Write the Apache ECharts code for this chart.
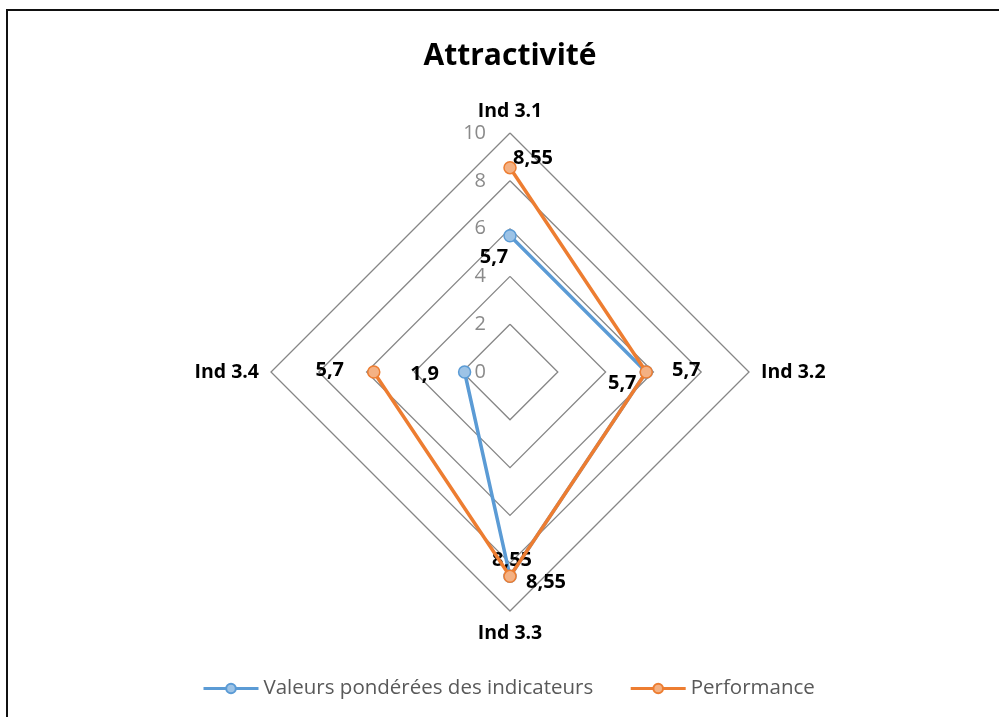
<!DOCTYPE html>
<html>
<head>
<meta charset="utf-8">
<script src="https://cdn.jsdelivr.net/npm/echarts@6/dist/echarts.min.js"></script>
<style>
  html, body { margin: 0; padding: 0; background: #fff; }
  #chart { width: 999px; height: 717px; }
</style>
</head>
<body>
<div id="chart"></div>
<script>
// Indicators, clockwise from the top
const indicators = ['Ind 3.1', 'Ind 3.2', 'Ind 3.3', 'Ind 3.4'];
const weightedValues = [5.7, 5.7, 8.55, 1.9];
const performance = [8.55, 5.7, 8.55, 5.7];
const radialTicks = [0, 2, 4, 6, 8, 10];
const seriesNames = ['Valeurs pondérées des indicateurs', 'Performance'];

// Label offsets (px) per vertex, relative to the marker centre
const blueLabelOffsets = [[-16, 22], [-24, 11], [2, -16], [-40, 2]];
const orangeLabelOffsets = [[23, -9], [40, -2], [36, 6], [-44, -2]];

const FONT = '"Open Sans", "Noto Sans", "Liberation Sans", sans-serif';
const CENTER = [510, 372];
const RADIUS = 239;

function buildPoints(values, offsets) {
  const pts = values.map((v, i) => ({
    value: [v, i],
    label: {
      show: true,
      position: 'inside',
      offset: offsets[i],
      formatter: String(v).replace('.', ','),
      color: '#000',
      fontWeight: 'bold',
      fontSize: 20,
      fontFamily: FONT
    }
  }));
  // close the polygon back on the first indicator
  pts.push({ value: [values[0], 0], symbol: 'none', label: { show: false } });
  return pts;
}

const chart = echarts.init(document.getElementById('chart'), null, { renderer: 'canvas' });

chart.setOption({
  backgroundColor: '#fff',
  animation: false,
  title: {
    text: 'Attractivité',
    left: 505,
    top: 36,
    textAlign: 'center',
    textStyle: { fontSize: 30, fontWeight: 'bold', color: '#000', fontFamily: FONT }
  },
  legend: {
    top: 673,
    left: 197,
    itemGap: 36,
    itemWidth: 55,
    itemHeight: 12,
    data: seriesNames,
    lineStyle: { width: 3 },
    textStyle: { fontSize: 20.5, color: '#595959', fontFamily: FONT }
  },
  graphic: [{
    type: 'rect',
    shape: { x: 7, y: 10, width: 1010, height: 730 },
    style: { fill: 'none', stroke: '#111', lineWidth: 2 },
    silent: true,
    z: -1
  }],
  radar: {
    center: CENTER,
    radius: RADIUS,
    shape: 'polygon',
    splitNumber: 5,
    indicator: indicators.map(() => ({ name: '', max: 10, min: 0 })),
    axisName: { show: false },
    axisLine: { show: false },
    axisTick: { show: false },
    axisLabel: { show: false },
    splitArea: { show: false },
    splitLine: { lineStyle: { color: '#868686', width: 1.3 } }
  },
  polar: { center: CENTER, radius: RADIUS },
  angleAxis: {
    type: 'category',
    data: indicators,
    boundaryGap: false,
    startAngle: 90,
    clockwise: true,
    axisLine: { show: false },
    axisTick: { show: false },
    splitLine: { show: false },
    axisLabel: {
      margin: 12,
      color: '#000',
      fontWeight: 'bold',
      fontSize: 19.5,
      fontFamily: FONT
    }
  },
  radiusAxis: {
    type: 'value',
    min: radialTicks[0],
    max: radialTicks[radialTicks.length - 1],
    interval: radialTicks[1] - radialTicks[0],
    axisLine: { show: false },
    axisTick: { show: false },
    splitLine: { show: false },
    axisLabel: {
      margin: 24,
      color: '#8a8a8a',
      fontSize: 20,
      fontFamily: FONT
    }
  },
  series: [
    {
      name: seriesNames[0],
      type: 'line',
      coordinateSystem: 'polar',
      data: buildPoints(weightedValues, blueLabelOffsets),
      symbol: 'circle',
      symbolSize: 12,
      lineStyle: { color: '#5B9BD5', width: 3.5 },
      itemStyle: { color: '#9DC3E6', borderColor: '#5B9BD5', borderWidth: 1.5 },
      z: 3
    },
    {
      name: seriesNames[1],
      type: 'line',
      coordinateSystem: 'polar',
      data: buildPoints(performance, orangeLabelOffsets),
      symbol: 'circle',
      symbolSize: 12,
      lineStyle: { color: '#ED7D31', width: 3.5 },
      itemStyle: { color: '#F4B183', borderColor: '#ED7D31', borderWidth: 1.5 },
      z: 4
    }
  ]
});
</script>
</body>
</html>
